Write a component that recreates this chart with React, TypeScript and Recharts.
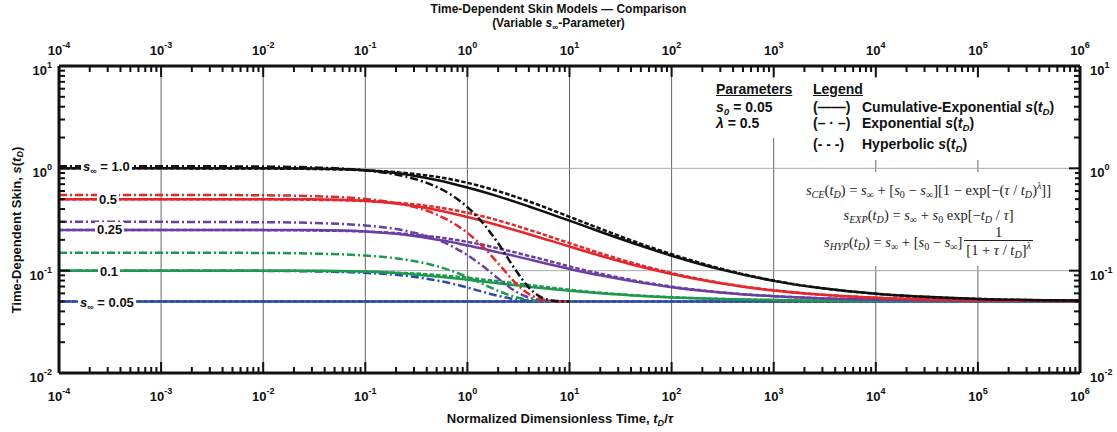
import React from "react";
import { LineChart, Line, XAxis, YAxis, ReferenceLine } from "recharts";

// normalized dimensionless time, tD / tau
const tD = [1e-4, 1e-3, 1e-2, 0.03, 0.1, 0.2, 0.3, 0.5, 0.7, 1, 1.5, 2, 3, 4, 5, 7, 10, 20, 50, 100, 300, 1000, 3000, 1e4, 1e5, 1e6];

// s_inf = 1.0
const ce100 = [1.0, 1.0, 1.0, 0.997, 0.96, 0.898, 0.847, 0.769, 0.712, 0.65, 0.58, 0.532, 0.467, 0.424, 0.393, 0.349, 0.308, 0.24, 0.175, 0.14, 0.103, 0.0795, 0.0672, 0.0595, 0.053, 0.051];
const hyp100 = [1.0, 0.9995, 0.995, 0.986, 0.956, 0.917, 0.883, 0.826, 0.779, 0.722, 0.651, 0.599, 0.525, 0.475, 0.438, 0.386, 0.336, 0.257, 0.183, 0.145, 0.105, 0.08, 0.0673, 0.0595, 0.053, 0.051];
const exp100 = [1.05, 1.049, 1.04, 1.02, 0.955, 0.869, 0.791, 0.657, 0.547, 0.418, 0.273, 0.185, 0.0998, 0.0683, 0.0567, 0.0509, 0.05, null, null, null, null, null, null, null, null, null];

// s_inf = 0.5
const ce050 = [0.5, 0.5, 0.5, 0.499, 0.481, 0.452, 0.428, 0.391, 0.364, 0.334, 0.301, 0.278, 0.247, 0.227, 0.212, 0.192, 0.172, 0.14, 0.109, 0.0928, 0.0752, 0.064, 0.0582, 0.0545, 0.0514, 0.0505];
const hyp050 = [0.5, 0.4998, 0.498, 0.493, 0.479, 0.461, 0.445, 0.417, 0.395, 0.368, 0.335, 0.31, 0.275, 0.251, 0.234, 0.209, 0.186, 0.148, 0.113, 0.0948, 0.076, 0.0642, 0.0582, 0.0545, 0.0514, 0.0505];
const exp050 = [0.55, 0.55, 0.545, 0.535, 0.502, 0.459, 0.42, 0.353, 0.298, 0.234, 0.162, 0.118, 0.0749, 0.0592, 0.0534, 0.0505, 0.05, null, null, null, null, null, null, null, null, null];

// s_inf = 0.25
const ce025 = [0.25, 0.25, 0.25, 0.249, 0.242, 0.229, 0.218, 0.201, 0.19, 0.176, 0.162, 0.151, 0.138, 0.129, 0.122, 0.113, 0.104, 0.0901, 0.0764, 0.069, 0.0612, 0.0562, 0.0536, 0.052, 0.0506, 0.0502];
const hyp025 = [0.25, 0.2499, 0.249, 0.247, 0.241, 0.233, 0.225, 0.213, 0.203, 0.191, 0.177, 0.165, 0.15, 0.139, 0.132, 0.121, 0.11, 0.0936, 0.078, 0.0699, 0.0615, 0.0563, 0.0537, 0.052, 0.0506, 0.0502];
const exp025 = [0.3, 0.2998, 0.2975, 0.293, 0.276, 0.255, 0.235, 0.202, 0.174, 0.142, 0.106, 0.0838, 0.0624, 0.0546, 0.0517, 0.0502, 0.05, null, null, null, null, null, null, null, null, null];

// s_inf = 0.1
const ce010 = [0.1, 0.1, 0.1, 0.0998, 0.0979, 0.0947, 0.0919, 0.0878, 0.0849, 0.0816, 0.0779, 0.0753, 0.0719, 0.0697, 0.068, 0.0657, 0.0636, 0.06, 0.0566, 0.0548, 0.0528, 0.0516, 0.0509, 0.0505, 0.0502, 0.05];
const hyp010 = [0.1, 0.1, 0.0998, 0.0993, 0.0977, 0.0956, 0.0939, 0.0908, 0.0884, 0.0854, 0.0816, 0.0789, 0.075, 0.0724, 0.0704, 0.0677, 0.0651, 0.0609, 0.057, 0.055, 0.0529, 0.0516, 0.0509, 0.0505, 0.0502, 0.05];
const exp010 = [0.15, 0.15, 0.149, 0.147, 0.1405, 0.1319, 0.1241, 0.1107, 0.0997, 0.0868, 0.0723, 0.0635, 0.055, 0.0518, 0.0507, 0.0501, 0.05, null, null, null, null, null, null, null, null, null];

// s_inf = 0.05
const ce005 = [0.05, 0.05, 0.05, 0.05, 0.05, 0.05, 0.05, 0.05, 0.05, 0.05, 0.05, 0.05, 0.05, 0.05, 0.05, 0.05, 0.05, 0.05, 0.05, 0.05, 0.05, 0.05, 0.05, 0.05, 0.05, 0.05];
const hyp005 = [0.05, 0.05, 0.05, 0.05, 0.05, 0.05, 0.05, 0.05, 0.05, 0.05, 0.05, 0.05, 0.05, 0.05, 0.05, 0.05, 0.05, 0.05, 0.05, 0.05, 0.05, 0.05, 0.05, 0.05, 0.05, 0.05];
const exp005 = [0.1, 0.1, 0.0995, 0.0985, 0.0952, 0.091, 0.087, 0.0803, 0.0749, 0.0684, 0.0612, 0.0568, 0.0525, 0.0509, 0.0503, 0.05, 0.05, null, null, null, null, null, null, null, null, null];

const xDecades = [1e-4, 1e-3, 1e-2, 1e-1, 1, 10, 100, 1e3, 1e4, 1e5, 1e6];
const yDecades = [0.01, 0.1, 1, 10];
const minorSteps = [2, 3, 4, 5, 6, 7, 8, 9];
const xGrid = [1e-3, 1e-2, 1e-1, 1, 10, 100, 1e3, 1e4, 1e5];
const yGrid = [0.1, 1];

const FONT = "'Liberation Sans', Arial, Helvetica, sans-serif";
const SERIF = "'Liberation Serif', 'Times New Roman', serif";
const INK = "#111";

// draw order: blue first, black on top
const SERIES = [
  { key: "005", color: "#2d4aa6", ce: ce005, hyp: hyp005, exp: exp005 },
  { key: "010", color: "#1e9a50", ce: ce010, hyp: hyp010, exp: exp010 },
  { key: "025", color: "#6a3fa3", ce: ce025, hyp: hyp025, exp: exp025 },
  { key: "050", color: "#e5262b", ce: ce050, hyp: hyp050, exp: exp050 },
  { key: "100", color: "#111111", ce: ce100, hyp: hyp100, exp: exp100 },
];

const rows = tD.map((t, i) => {
  const r: any = { t };
  SERIES.forEach((s) => {
    r["ce" + s.key] = s.ce[i];
    r["hyp" + s.key] = s.hyp[i];
    r["exp" + s.key] = s.exp[i];
  });
  return r;
});

const withMinor = (decades: number[]) => [
  ...decades,
  ...decades.slice(0, -1).flatMap((d) => minorSteps.map((m) => m * d)),
];
const xTicks = withMinor(xDecades);
const yTicks = withMinor(yDecades);

const expOf = (v: number) => Math.round(Math.log10(v));
const isMajor = (v: number) => Math.abs(Math.log10(v) - expOf(v)) < 1e-6;

function Pow10({ x, y, e, anchor }: any) {
  return (
    <text x={x} y={y} textAnchor={anchor} fontFamily={FONT} fontWeight={700} fontSize={13} fill={INK}>
      10
      <tspan dy={-7} fontSize={9}>
        {e}
      </tspan>
    </text>
  );
}

const xTick = (side: "top" | "bottom") => (props: any) => {
  const { x, y, payload } = props;
  const major = isMajor(payload.value);
  const dir = side === "bottom" ? -1 : 1;
  return (
    <g>
      <line x1={x} x2={x} y1={y} y2={y + dir * (major ? 11 : 6)} stroke={INK} strokeWidth={2} />
      {major && (
        <Pow10 x={x} y={side === "bottom" ? y + 28 : y - 11} e={expOf(payload.value)} anchor="middle" />
      )}
    </g>
  );
};

const yTick = (side: "left" | "right") => (props: any) => {
  const { x, y, payload } = props;
  const major = isMajor(payload.value);
  const dir = side === "left" ? 1 : -1;
  return (
    <g>
      <line x1={x} x2={x + dir * (major ? 11 : 6)} y1={y} y2={y} stroke={INK} strokeWidth={2} />
      {major && (
        <Pow10
          x={side === "left" ? x - 7 : x + 10}
          y={y + 9}
          e={expOf(payload.value)}
          anchor={side === "left" ? "end" : "start"}
        />
      )}
    </g>
  );
};

const Sub = ({ children }: any) => (
  <span style={{ fontSize: "0.7em", verticalAlign: "-0.3em", lineHeight: 0 }}>{children}</span>
);
const Sup = ({ children }: any) => (
  <span style={{ fontSize: "0.7em", verticalAlign: "0.55em", lineHeight: 0 }}>{children}</span>
);
const I = ({ children }: any) => <span style={{ fontStyle: "italic" }}>{children}</span>;
const SInf = () => (
  <>
    <I>s</I>
    <Sub>∞</Sub>
  </>
);
const StD = () => (
  <>
    <I>s</I>(<I>t</I>
    <Sub>
      <I>D</I>
    </Sub>
    )
  </>
);

function Box({ left, top, width, height }: any) {
  return <div style={{ position: "absolute", left, top, width, height, background: "#fff" }} />;
}

function CurveLabel({ left, cy, children }: any) {
  return (
    <div
      style={{
        position: "absolute",
        left,
        top: cy - 7,
        height: 14,
        lineHeight: "14px",
        padding: "0 2px",
        background: "#fff",
        font: `700 13px ${FONT}`,
        color: INK,
        whiteSpace: "nowrap",
      }}
    >
      {children}
    </div>
  );
}

function Txt({ left, top, size = 14, children, style }: any) {
  return (
    <div
      style={{
        position: "absolute",
        left,
        top,
        lineHeight: "16px",
        font: `700 ${size}px ${FONT}`,
        color: INK,
        whiteSpace: "nowrap",
        ...style,
      }}
    >
      {children}
    </div>
  );
}

function Eq({ top, children }: any) {
  return (
    <div
      style={{
        position: "absolute",
        left: 786,
        top,
        width: 285,
        textAlign: "center",
        font: `14.5px ${SERIF}`,
        lineHeight: "18px",
        color: "#222",
        whiteSpace: "nowrap",
      }}
    >
      {children}
    </div>
  );
}

const axisCommon = {
  type: "number" as const,
  scale: "log" as const,
  allowDataOverflow: true,
  interval: 0 as const,
  tickSize: 0,
  tickMargin: 0,
  tickLine: false,
  axisLine: { stroke: INK, strokeWidth: 3 },
};

export default function App() {
  return (
    <div
      style={{
        position: "absolute",
        left: 0,
        top: 0,
        width: 1117,
        height: 432,
        background: "#fff",
        overflow: "hidden",
      }}
    >
      <LineChart width={1117} height={432} data={rows} margin={{ top: 65, right: 36, bottom: 58, left: 58 }}>
        <XAxis
          {...axisCommon}
          xAxisId="b"
          dataKey="t"
          domain={[1e-4, 1e6]}
          orientation="bottom"
          height={1}
          ticks={xTicks}
          tick={xTick("bottom")}
        />
        <XAxis
          {...axisCommon}
          xAxisId="t"
          dataKey="t"
          domain={[1e-4, 1e6]}
          orientation="top"
          height={1}
          ticks={xTicks}
          tick={xTick("top")}
        />
        <YAxis
          {...axisCommon}
          yAxisId="l"
          domain={[0.01, 10]}
          orientation="left"
          width={1}
          ticks={yTicks}
          tick={yTick("left")}
        />
        <YAxis
          {...axisCommon}
          yAxisId="r"
          domain={[0.01, 10]}
          orientation="right"
          width={1}
          ticks={yTicks}
          tick={yTick("right")}
        />
        {xGrid.map((v) => (
          <ReferenceLine key={"gx" + v} x={v} xAxisId="b" yAxisId="l" stroke="#666" strokeWidth={1} />
        ))}
        {yGrid.map((v) => (
          <ReferenceLine key={"gy" + v} y={v} xAxisId="b" yAxisId="l" stroke="#aaa" strokeWidth={1} />
        ))}
        {SERIES.flatMap((s) => [
          <Line
            key={"exp" + s.key}
            xAxisId="b"
            yAxisId="l"
            dataKey={"exp" + s.key}
            type="monotone"
            stroke={s.color}
            strokeWidth={2.5}
            strokeDasharray="8 3 2 3"
            dot={false}
            activeDot={false}
            isAnimationActive={false}
          />,
          <Line
            key={"hyp" + s.key}
            xAxisId="b"
            yAxisId="l"
            dataKey={"hyp" + s.key}
            type="monotone"
            stroke={s.color}
            strokeWidth={2.5}
            strokeDasharray="4.5 2"
            dot={false}
            activeDot={false}
            isAnimationActive={false}
          />,
          <Line
            key={"ce" + s.key}
            xAxisId="b"
            yAxisId="l"
            dataKey={"ce" + s.key}
            type="monotone"
            stroke={s.color}
            strokeWidth={2.5}
            dot={false}
            activeDot={false}
            isAnimationActive={false}
          />,
        ])}
      </LineChart>

      {/* titles */}
      <div style={{ position: "absolute", left: 0, top: 2, width: 1117, textAlign: "center", font: `700 12px ${FONT}`, lineHeight: "14px", color: INK }}>
        Time-Dependent Skin Models — Comparison
      </div>
      <div style={{ position: "absolute", left: 0, top: 16, width: 1117, textAlign: "center", font: `700 12px ${FONT}`, lineHeight: "14px", color: INK }}>
        (Variable <SInf />-Parameter)
      </div>
      <div
        style={{
          position: "absolute",
          left: 16,
          top: 230,
          transform: "translate(-50%, -50%) rotate(-90deg)",
          font: `700 13px ${FONT}`,
          color: INK,
          whiteSpace: "nowrap",
        }}
      >
        Time-Dependent Skin, <StD />
      </div>
      <div style={{ position: "absolute", left: 0, top: 411, width: 1120, textAlign: "center", font: `700 13px ${FONT}`, lineHeight: "16px", color: INK }}>
        Normalized Dimensionless Time, <I>t</I>
        <Sub>
          <I>D</I>
        </Sub>
        /<I>τ</I>
      </div>

      {/* curve labels */}
      <CurveLabel left={81} cy={166}>
        <SInf /> = 1.0
      </CurveLabel>
      <CurveLabel left={97} cy={199}>0.5</CurveLabel>
      <CurveLabel left={95} cy={229}>0.25</CurveLabel>
      <CurveLabel left={98} cy={271}>0.1</CurveLabel>
      <CurveLabel left={78} cy={302}>
        <SInf /> = 0.05
      </CurveLabel>

      {/* parameters and legend */}
      <Box left={700} top={78} width={100} height={60} />
      <Box left={805} top={78} width={268} height={82} />
      <Txt left={716} top={81} style={{ textDecoration: "underline" }}>Parameters</Txt>
      <Txt left={716} top={99}>
        <I>s</I>
        <Sub>
          <I>0</I>
        </Sub>{" "}
        = 0.05
      </Txt>
      <Txt left={716} top={115}>
        <I>λ</I> = 0.5
      </Txt>
      <Txt left={813} top={81} style={{ textDecoration: "underline" }}>Legend</Txt>
      <Txt left={813} top={99}>(——)</Txt>
      <Txt left={813} top={115}>(– · –)</Txt>
      <Txt left={813} top={136}>(- - -)</Txt>
      <Txt left={862} top={99}>
        Cumulative-Exponential <StD />
      </Txt>
      <Txt left={862} top={115}>
        Exponential <StD />
      </Txt>
      <Txt left={862} top={136}>
        Hyperbolic <StD />
      </Txt>

      {/* model equations */}
      <Box left={786} top={172} width={289} height={94} />
      <Eq top={181}>
        <I>s</I>
        <Sub>
          <I>CE</I>
        </Sub>
        (<I>t</I>
        <Sub>
          <I>D</I>
        </Sub>
        ) = <I>s</I>
        <Sub>∞</Sub> + [<I>s</I>
        <Sub>0</Sub> − <I>s</I>
        <Sub>∞</Sub>][1 − exp[−(<I>τ</I> / <I>t</I>
        <Sub>
          <I>D</I>
        </Sub>
        )<Sup>
          <I>λ</I>
        </Sup>
        ]]
      </Eq>
      <Eq top={206}>
        <I>s</I>
        <Sub>
          <I>EXP</I>
        </Sub>
        (<I>t</I>
        <Sub>
          <I>D</I>
        </Sub>
        ) = <I>s</I>
        <Sub>∞</Sub> + <I>s</I>
        <Sub>0</Sub> exp[−<I>t</I>
        <Sub>
          <I>D</I>
        </Sub>{" "}
        / <I>τ</I>]
      </Eq>
      <Eq top={225}>
        <span style={{ display: "inline-flex", alignItems: "center" }}>
          <span>
            <I>s</I>
            <Sub>
              <I>HYP</I>
            </Sub>
            (<I>t</I>
            <Sub>
              <I>D</I>
            </Sub>
            ) = <I>s</I>
            <Sub>∞</Sub> + [<I>s</I>
            <Sub>0</Sub> − <I>s</I>
            <Sub>∞</Sub>]
          </span>
          <span style={{ display: "inline-flex", flexDirection: "column", alignItems: "center", marginLeft: 2 }}>
            <span style={{ lineHeight: "15px" }}>1</span>
            <span style={{ borderTop: "1px solid #222", lineHeight: "18px", padding: "0 2px" }}>
              [1 + <I>τ</I> / <I>t</I>
              <Sub>
                <I>D</I>
              </Sub>
              ]<Sup>
                <I>λ</I>
              </Sup>
            </span>
          </span>
        </span>
      </Eq>
    </div>
  );
}
